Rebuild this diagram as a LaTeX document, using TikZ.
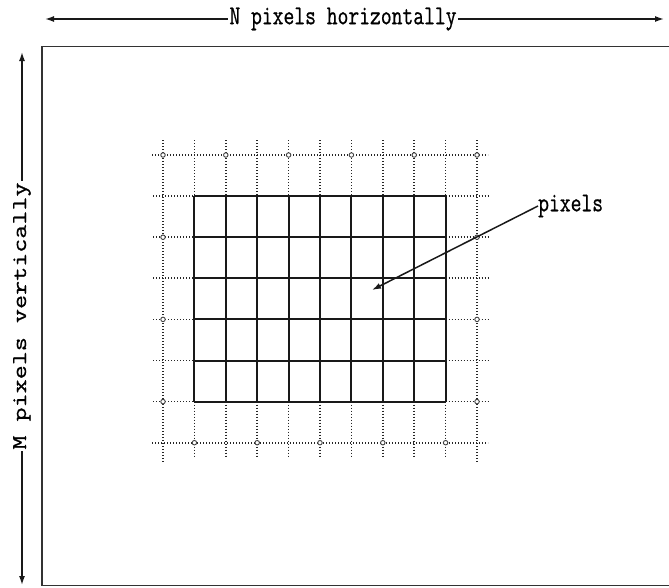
\documentclass[tikz,border=0pt]{standalone}
\usepackage{fontspec}
\newfontfamily\ttf[FakeBold=0.8]{Latin Modern Mono}
\usetikzlibrary{arrows.meta}
\begin{document}
\begin{tikzpicture}[x=1pt,y=-1pt,
  solidline/.style={line width=2pt, black!90},
  dotline/.style={line width=1.7pt, black!85, dash pattern=on 1.4pt off 1.6pt},
  frameline/.style={line width=1.8pt, black!80},
  dimline/.style={line width=1.5pt, black!90},
  lbl/.style={font=\ttf\fontsize{21}{22}\selectfont, fill=white, inner sep=1pt},
  dot/.style={circle, draw=black!75, line width=0.9pt, fill=white, inner sep=0pt, minimum size=4.5pt}
]
\useasboundingbox (0,0) rectangle (669,587);
% frame
\draw[frameline] (669,46.5) -- (42,46.5) -- (42,585.5) -- (669,585.5);
% horizontal dimension
\coordinate (hl) at (45,19);
\coordinate (hr) at (664,19);
\draw[dimline, {Latex[length=9pt,width=6pt]}-{Latex[length=9pt,width=6pt]}] (hl) -- (hr);
\node[lbl] (htext) at (343,19) {\scalebox{1}[1.3]{N pixels horizontally}};
% vertical dimension
\coordinate (vt) at (22,52);
\coordinate (vb) at (22,585);
\draw[dimline, {Latex[length=9pt,width=6pt]}-{Latex[length=9pt,width=6pt]}] (vt) -- (vb);
\node[lbl, rotate=90] (vtext) at (22,316) {\scalebox{1.3}[1]{M pixels vertically}};
% grid geometry
\def\gx#1{163+31.4*#1}
\def\gy#1{155+41.1*#1}
% dotted outer lines
\foreach \i in {0,10} {
  \draw[dotline] ({\gx{\i}},140) -- ({\gx{\i}},462);
}
\foreach \i in {1,...,9} {
  \draw[dotline] ({\gx{\i}},140) -- ({\gx{\i}},{\gy{1}});
  \draw[dotline] ({\gx{\i}},{\gy{6}}) -- ({\gx{\i}},458);
}
\foreach \j in {0,7} {
  \draw[dotline] (152,{\gy{\j}}) -- (488,{\gy{\j}});
}
\foreach \j in {1,...,6} {
  \draw[dotline] (153,{\gy{\j}}) -- ({\gx{1}},{\gy{\j}});
  \draw[dotline] ({\gx{9}},{\gy{\j}}) -- (488,{\gy{\j}});
}
% solid pixel grid
\foreach \i in {1,...,9} {
  \draw[solidline] ({\gx{\i}},{\gy{1}}) -- ({\gx{\i}},{\gy{6}});
}
\foreach \j in {1,...,6} {
  \draw[solidline] ({\gx{1}},{\gy{\j}}) -- ({\gx{9}},{\gy{\j}});
}
% sample points on outer ring
\foreach \i in {0,2,...,10} { \node[dot] at ({\gx{\i}},{\gy{0}}) {}; }
\foreach \i in {1,3,...,9} { \node[dot] at ({\gx{\i}},{\gy{7}}) {}; }
\foreach \j in {2,4,6} {
  \node[dot] at ({\gx{0}},{\gy{\j}}) {};
  \node[dot] at ({\gx{10}},{\gy{\j}}) {};
}
% pixels label and arrow
\node[lbl, anchor=west, inner sep=0pt, fill=none] (plabel) at (538,206) {\scalebox{1}[1.3]{pixels}};
\coordinate (ptip) at (372,290);
\draw[dimline, -{Latex[length=9pt,width=6pt]}] (plabel.west) -- (ptip);
\end{tikzpicture}
\end{document}
